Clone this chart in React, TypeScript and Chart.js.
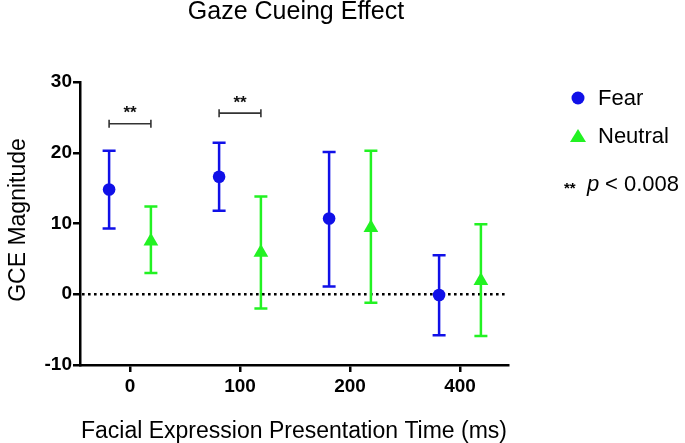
import React, { useEffect, useRef } from "react";
import { Chart, registerables } from "chart.js";

Chart.register(...registerables);

const categories = ["0", "100", "200", "400"];
const fearMean = [14.8, 16.6, 10.7, -0.1];
const fearUpper = [20.3, 21.4, 20.1, 5.5];
const fearLower = [9.3, 11.8, 1.1, -5.8];
const neutralMean = [7.5, 5.9, 9.4, 1.9];
const neutralUpper = [12.4, 13.8, 20.3, 9.9];
const neutralLower = [3.0, -2.0, -1.2, -5.9];
const sigCategory = [0, 1];
const sigLevel = [24.1, 25.6];
const yTicks = [-10, 0, 10, 20, 30];

const FONT = "'Liberation Sans', Arial, Helvetica, sans-serif";
const BLUE = "#1010e8";
const GREEN = "#22f222";
const OFFSET = 0.19;

const overlay = {
  id: "overlay",
  beforeDatasetsDraw(chart: any) {
    const ctx = chart.ctx;
    const xs = chart.scales.x;
    const ys = chart.scales.y;
    const area = chart.chartArea;
    ctx.save();
    ctx.strokeStyle = "#000";
    ctx.lineWidth = 2.6;
    ctx.setLineDash([2.6, 3.4]);
    const y0 = ys.getPixelForValue(0);
    ctx.beginPath();
    ctx.moveTo(area.left + 2, y0);
    ctx.lineTo(area.right, y0);
    ctx.stroke();
    ctx.setLineDash([]);
    const series = [
      { mean: fearMean, up: fearUpper, lo: fearLower, off: -OFFSET, color: BLUE },
      { mean: neutralMean, up: neutralUpper, lo: neutralLower, off: OFFSET, color: GREEN },
    ];
    for (const s of series) {
      ctx.strokeStyle = s.color;
      ctx.lineWidth = 2.5;
      for (let i = 0; i < categories.length; i++) {
        const x = xs.getPixelForValue(i + s.off);
        const yu = ys.getPixelForValue(s.up[i]);
        const yl = ys.getPixelForValue(s.lo[i]);
        ctx.beginPath();
        ctx.moveTo(x, yu);
        ctx.lineTo(x, yl);
        ctx.moveTo(x - 6.5, yu);
        ctx.lineTo(x + 6.5, yu);
        ctx.moveTo(x - 6.5, yl);
        ctx.lineTo(x + 6.5, yl);
        ctx.stroke();
      }
    }
    ctx.strokeStyle = "#333";
    ctx.lineWidth = 1.6;
    ctx.fillStyle = "#111";
    ctx.font = `bold 17px ${FONT}`;
    ctx.textAlign = "center";
    ctx.textBaseline = "middle";
    for (let k = 0; k < sigCategory.length; k++) {
      const c = sigCategory[k];
      const x1 = xs.getPixelForValue(c - OFFSET);
      const x2 = xs.getPixelForValue(c + OFFSET);
      const y = ys.getPixelForValue(sigLevel[k]);
      ctx.beginPath();
      ctx.moveTo(x1, y);
      ctx.lineTo(x2, y);
      ctx.moveTo(x1, y - 4);
      ctx.lineTo(x1, y + 4);
      ctx.moveTo(x2, y - 4);
      ctx.lineTo(x2, y + 4);
      ctx.stroke();
      ctx.fillText("**", (x1 + x2) / 2, y - 10);
    }
    ctx.restore();
  },
  afterDraw(chart: any) {
    const ctx = chart.ctx;
    const area = chart.chartArea;
    ctx.save();
    ctx.fillStyle = "#000";
    ctx.textAlign = "center";
    ctx.textBaseline = "middle";
    ctx.font = `25px ${FONT}`;
    ctx.fillText("Gaze Cueing Effect", 296, 12);
    ctx.font = `23px ${FONT}`;
    ctx.fillText("Facial Expression Presentation Time (ms)", (area.left + area.right) / 2, 432);
    ctx.save();
    ctx.translate(19, 220);
    ctx.rotate(-Math.PI / 2);
    ctx.fillText("GCE Magnitude", 0, 0);
    ctx.restore();
    // legend
    ctx.fillStyle = BLUE;
    ctx.beginPath();
    ctx.arc(578, 98, 6.5, 0, Math.PI * 2);
    ctx.fill();
    ctx.fillStyle = GREEN;
    ctx.beginPath();
    ctx.moveTo(578, 129);
    ctx.lineTo(586, 142);
    ctx.lineTo(570, 142);
    ctx.closePath();
    ctx.fill();
    ctx.fillStyle = "#000";
    ctx.textAlign = "left";
    ctx.textBaseline = "middle";
    ctx.font = `22px ${FONT}`;
    ctx.fillText("Fear", 598, 99);
    ctx.fillText("Neutral", 598, 137);
    ctx.font = `bold 15px ${FONT}`;
    ctx.fillText("**", 564, 189);
    ctx.font = `italic 22px ${FONT}`;
    ctx.fillText("p", 587, 185);
    ctx.font = `22px ${FONT}`;
    ctx.fillText("< 0.008", 605, 185);
    ctx.restore();
  },
};

export default function App() {
  const ref = useRef<HTMLCanvasElement>(null);
  useEffect(() => {
    if (!ref.current) return;
    const chart = new Chart(ref.current, {
      type: "scatter",
      data: {
        datasets: [
          {
            label: "Fear",
            data: fearMean.map((v, i) => ({ x: i - OFFSET, y: v })),
            pointStyle: "circle",
            pointRadius: 6.3,
            backgroundColor: BLUE,
            borderColor: BLUE,
            borderWidth: 0,
          },
          {
            label: "Neutral",
            data: neutralMean.map((v, i) => ({ x: i + OFFSET, y: v })),
            pointStyle: "triangle",
            pointRadius: 8.5,
            backgroundColor: GREEN,
            borderColor: GREEN,
            borderWidth: 0,
          },
        ],
      },
      options: {
        responsive: false,
        animation: false,
        layout: { padding: { top: 82, right: 177, left: 0, bottom: 0 } },
        plugins: { legend: { display: false }, tooltip: { enabled: false }, title: { display: false } },
        scales: {
          x: {
            type: "linear",
            min: -50 / 110,
            max: 3 + 48 / 110,
            afterFit: (s: any) => { s.height = 78; },
            afterBuildTicks: (s: any) => { s.ticks = categories.map((_, i) => ({ value: i })); },
            ticks: {
              callback: (v: any) => categories[v] ?? "",
              color: "#000",
              font: { family: FONT, size: 19, weight: "bold" },
              padding: 3,
              maxRotation: 0,
            },
            grid: { drawOnChartArea: false, drawTicks: true, tickLength: 7, color: "#000", lineWidth: 2.5 },
            border: { color: "#000", width: 2.5 },
          },
          y: {
            min: -10,
            max: 30,
            afterFit: (s: any) => { s.width = 80; },
            afterBuildTicks: (s: any) => { s.ticks = yTicks.map((v) => ({ value: v })); },
            ticks: {
              color: "#000",
              font: { family: FONT, size: 19, weight: "bold" },
              padding: 1,
            },
            grid: { drawOnChartArea: false, drawTicks: true, tickLength: 7, color: "#000", lineWidth: 2.5 },
            border: { color: "#000", width: 2.5 },
          },
        },
      },
      plugins: [overlay],
    } as any);
    return () => chart.destroy();
  }, []);
  return (
    <div style={{ position: "fixed", left: 0, top: 0, width: 685, height: 443, background: "#fff" }}>
      <canvas ref={ref} width={685} height={443} style={{ width: 685, height: 443 }} />
    </div>
  );
}
